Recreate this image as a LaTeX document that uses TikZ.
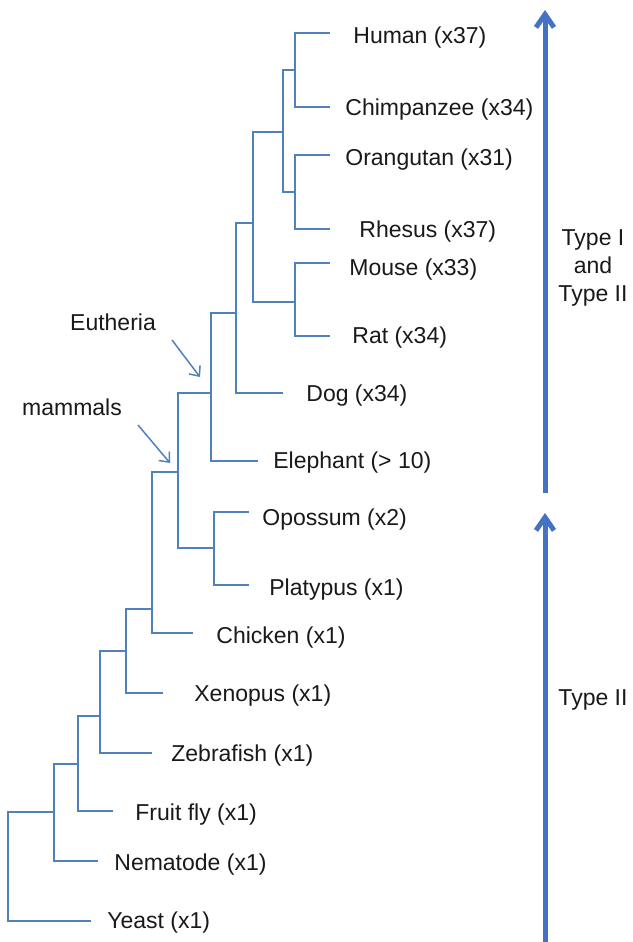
\documentclass[tikz,border=0pt]{standalone}
\usepackage{fontspec}
\setmainfont{Liberation Sans}
\usetikzlibrary{arrows.meta}
\definecolor{treeblue}{RGB}{79,129,189}
\definecolor{arrowblue}{RGB}{68,114,196}

\begin{document}
\begin{tikzpicture}[x=0.5pt,y=-0.5pt]
	\tikzset{
		branch/.style={draw=treeblue, line width=0.65pt},
		taxon/.style={anchor=west, inner sep=0pt, yshift=-1.2pt, font=\fontsize{11.5}{14}\selectfont, text=black!90},
		cladename/.style={inner sep=0pt, font=\fontsize{11.5}{14}\selectfont, text=black!90},
		pointer/.style={draw=treeblue, line width=0.75pt, -{Straight Barb[length=4pt,width=7pt]}},
		bigarrow/.style={draw=arrowblue, line width=2.5pt, -{Straight Barb[length=6.5pt,width=9pt]}}
	}
	\useasboundingbox (0,0) rectangle (632,942);
	% leaves: name / end of branch / y / start of label / label y / label
	\foreach \n/\lx/\y/\tx/\ty/\lbl in {
		human/330/33/353/35/Human (x37),
		chimp/330/107/345/107/Chimpanzee (x34),
		orang/330/155/345/157/Orangutan (x31),
		rhesus/330/229/359/229/Rhesus (x37),
		mouse/330/263/349/267/Mouse (x33),
		rat/330/336/352/335/Rat (x34),
		dog/283/393/306/393/Dog (x34),
		eleph/258/461/273/460/Elephant (> 10),
		opos/249/512/262/517/Opossum (x2),
		platy/249/585/269/587/Platypus (x1),
		chick/193/633/216/635/Chicken (x1),
		xeno/163/693/194/693/Xenopus (x1),
		zebra/152/753/171/753/Zebrafish (x1),
		fly/113/811/135/812/Fruit fly (x1),
		nema/98/861/114/862/Nematode (x1),
		yeast/91/921/107/920/Yeast (x1)} {
		\coordinate (\n) at (\lx,\y);
		\node[taxon] (\n-lbl) at (\tx,\ty) {\lbl};
	}
	% inner nodes
	\foreach \n/\x/\y in {hc/295/70, orrh/295/192, ape/283/132, rod/295/302,
		euar/253/223, bore/236/313, euth/211/393, ompl/214/548, mamm/178/472,
		amn/152/609, tet/126/651, vert/100/716, bila/78/764, meta/54/812, root/8/866}
		\coordinate (\n) at (\x,\y);
	\foreach \p/\c in {hc/human, hc/chimp, orrh/orang, orrh/rhesus, ape/hc, ape/orrh,
		rod/mouse, rod/rat, euar/ape, euar/rod, bore/euar, bore/dog,
		euth/bore, euth/eleph, ompl/opos, ompl/platy, mamm/euth, mamm/ompl,
		amn/mamm, amn/chick, tet/amn, tet/xeno, vert/tet, vert/zebra,
		bila/vert, bila/fly, meta/bila, meta/nema, root/meta, root/yeast}
		\draw[branch] (\p) |- (\c);
	% clade labels
	\node[cladename] (eulbl) at (113,322) {Eutheria};
	\node[cladename] (mamlbl) at (72,407) {mammals};
	\coordinate (eu-s) at (172,340);
	\coordinate (eu-t) at (200,377);
	\coordinate (mam-s) at (138,425);
	\coordinate (mam-t) at (170,463);
	\draw[pointer] (eu-s) -- (eu-t);
	\draw[pointer] (mam-s) -- (mam-t);
	% receptor types
	\coordinate (up-s) at (545,493);
	\coordinate (up-t) at (545,10);
	\coordinate (low-s) at (545,942);
	\coordinate (low-t) at (545,513);
	\draw[bigarrow] (up-s) -- (up-t);
	\draw[bigarrow] (low-s) -- (low-t);
	\node[cladename, align=center] (both) at (593,268) {Type I\\and\\Type II};
	\node[cladename] (only2) at (593,700) {Type II};
\end{tikzpicture}
\end{document}
